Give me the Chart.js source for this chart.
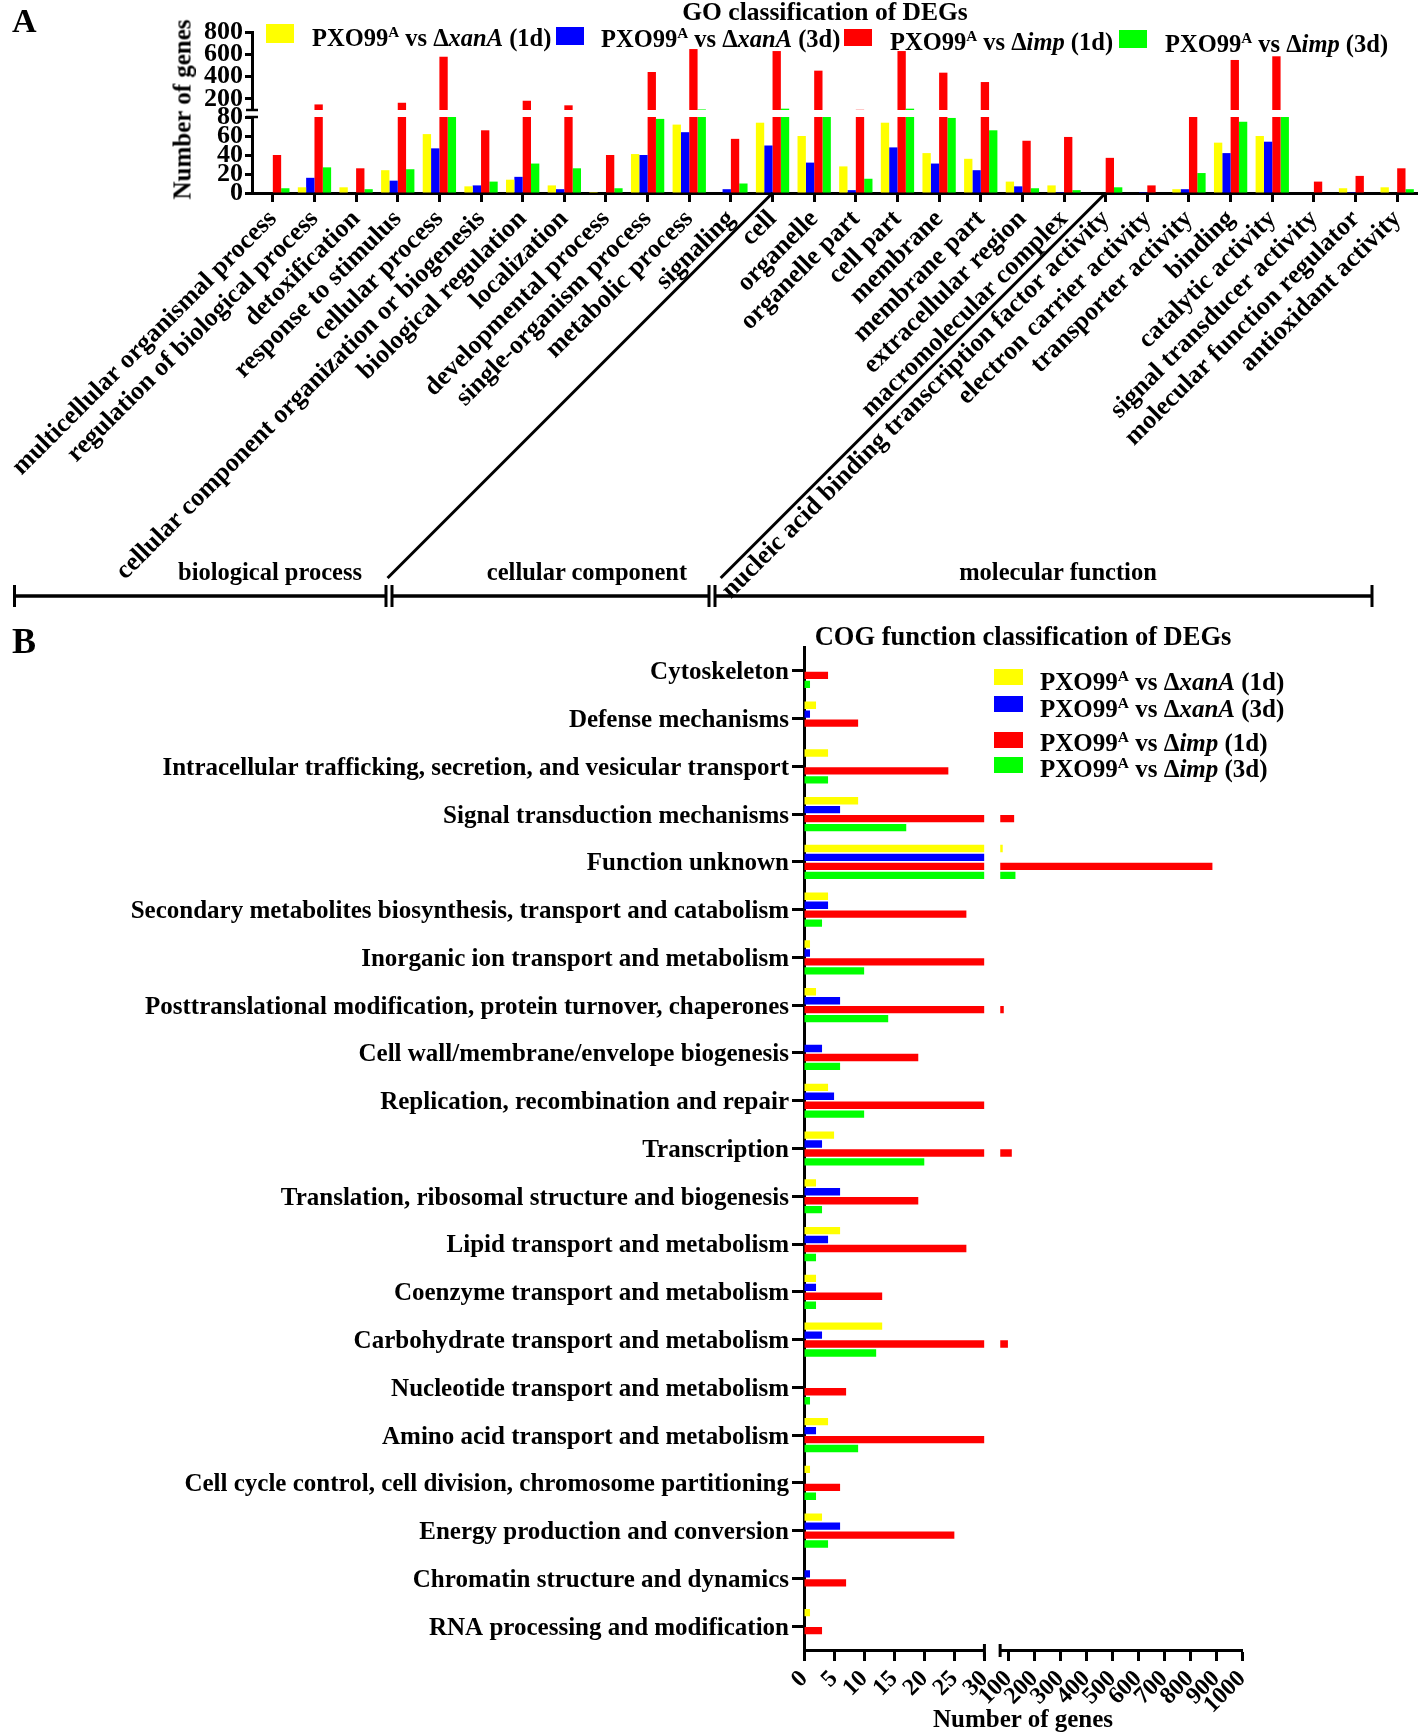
<!DOCTYPE html>
<html>
<head>
<meta charset="utf-8">
<script src="https://cdn.jsdelivr.net/npm/chart.js@4.4.1/dist/chart.umd.min.js"></script>
<style>
  body { margin: 0; background: #fff; }
  #page { position: relative; width: 1418px; height: 1736px; overflow: hidden;
          font-family: 'Liberation Serif', 'Times New Roman', serif; font-weight: bold; color: #000; }
  canvas { position: absolute; left: 0; }
  .txt { position: absolute; white-space: nowrap; line-height: 1; }
  .ctr { text-align: center; width: 500px; }
  .box { position: absolute; }
  sup { font-size: 0.62em; vertical-align: baseline; position: relative; top: -0.6em; }
</style>
</head>
<body>
<div id="page">
  <canvas id="goChart" width="1418" height="620" style="top:0"></canvas>
  <canvas id="cogChart" width="1418" height="1116" style="top:620px"></canvas>

  <div class="txt" style="left:12px;top:4px;font-size:34px">A</div>
  <div class="txt" style="left:12px;top:623px;font-size:36px">B</div>

  <div class="txt ctr" style="left:575px;top:-1px;font-size:25.5px">GO classification of DEGs</div>
  <div class="txt ctr" style="left:-68px;top:97px;font-size:25px;transform:rotate(-90deg)">Number of genes</div>

  <div class="box" style="left:266px;top:24px;width:28px;height:19px;background:#ffff00"></div>
  <div class="txt" style="left:312px;top:26px;font-size:24.5px">PXO99<sup>A</sup> vs Δ<i>xanA</i> (1d)</div>
  <div class="box" style="left:556px;top:27px;width:28px;height:18px;background:#0000ff"></div>
  <div class="txt" style="left:601px;top:27px;font-size:24.5px">PXO99<sup>A</sup> vs Δ<i>xanA</i> (3d)</div>
  <div class="box" style="left:844px;top:29px;width:28px;height:17px;background:#ff0000"></div>
  <div class="txt" style="left:890px;top:30px;font-size:24.5px">PXO99<sup>A</sup> vs Δ<i>imp</i> (1d)</div>
  <div class="box" style="left:1119px;top:30px;width:28px;height:18px;background:#00ff00"></div>
  <div class="txt" style="left:1165px;top:32px;font-size:24.5px">PXO99<sup>A</sup> vs Δ<i>imp</i> (3d)</div>

  <div class="txt ctr" style="left:20px;top:560px;font-size:24.5px">biological process</div>
  <div class="txt ctr" style="left:337px;top:560px;font-size:24.5px">cellular component</div>
  <div class="txt ctr" style="left:808px;top:560px;font-size:24.5px">molecular function</div>

  <div class="txt ctr" style="left:773px;top:623px;font-size:26.5px">COG function classification of DEGs</div>

  <div class="box" style="left:994px;top:669px;width:29px;height:16px;background:#ffff00"></div>
  <div class="txt" style="left:1040px;top:669px;font-size:25px">PXO99<sup>A</sup> vs Δ<i>xanA</i> (1d)</div>
  <div class="box" style="left:994px;top:696px;width:29px;height:16px;background:#0000ff"></div>
  <div class="txt" style="left:1040px;top:696px;font-size:25px">PXO99<sup>A</sup> vs Δ<i>xanA</i> (3d)</div>
  <div class="box" style="left:994px;top:732px;width:29px;height:16px;background:#ff0000"></div>
  <div class="txt" style="left:1040px;top:730px;font-size:25px">PXO99<sup>A</sup> vs Δ<i>imp</i> (1d)</div>
  <div class="box" style="left:994px;top:757px;width:29px;height:16px;background:#00ff00"></div>
  <div class="txt" style="left:1040px;top:756px;font-size:25px">PXO99<sup>A</sup> vs Δ<i>imp</i> (3d)</div>

  <div class="txt ctr" style="left:773px;top:1706px;font-size:25px">Number of genes</div>
</div>

<script>
// ---- GO classification (panel A) ----
const goCategories = [
  'multicellular organismal process', 'regulation of biological process', 'detoxification',
  'response to stimulus', 'cellular process', 'cellular component organization or biogenesis',
  'biological regulation', 'localization', 'developmental process', 'single-organism process',
  'metabolic process', 'signaling', 'cell', 'organelle', 'organelle part', 'cell part',
  'membrane', 'membrane part', 'extracellular region', 'macromolecular complex',
  'nucleic acid binding transcription factor activity', 'electron carrier activity',
  'transporter activity', 'binding', 'catalytic activity', 'signal transducer activity',
  'molecular function regulator', 'antioxidant activity'
];
const goXanA1d = [0, 6, 6, 24, 62, 7, 14, 8, 1, 41, 72, 0, 74, 60, 28, 74, 42, 36, 12, 8, 0, 0, 4, 53, 60, 0, 5, 6];
const goXanA3d = [0, 16, 0, 13, 47, 8, 17, 4, 0, 40, 64, 4, 50, 32, 3, 48, 31, 24, 7, 1, 0, 1, 4, 42, 54, 0, 1, 0];
const goImp1d = [40, 150, 26, 165, 578, 66, 183, 142, 40, 441, 647, 57, 629, 453, 102, 629, 435, 351, 55, 59, 37, 8, 90, 549, 582, 12, 18, 26];
const goImp3d = [5, 27, 4, 25, 85, 12, 31, 26, 5, 78, 105, 10, 112, 90, 15, 112, 79, 66, 5, 3, 6, 0, 21, 75, 88, 0, 0, 4];
const goLowTicks = [0, 20, 40, 60, 80];
const goHighTicks = [200, 400, 600, 800];
const goBreak = [80, 100];   // lower segment top, upper segment bottom
const goGroupEdges = [12, 20]; // first category of cellular component / molecular function

// ---- COG classification (panel B) ----
const cogCategories = [
  'Cytoskeleton', 'Defense mechanisms',
  'Intracellular trafficking, secretion, and vesicular transport',
  'Signal transduction mechanisms', 'Function unknown',
  'Secondary metabolites biosynthesis, transport and catabolism',
  'Inorganic ion transport and metabolism',
  'Posttranslational modification, protein turnover, chaperones',
  'Cell wall/membrane/envelope biogenesis', 'Replication, recombination and repair',
  'Transcription', 'Translation, ribosomal structure and biogenesis',
  'Lipid transport and metabolism', 'Coenzyme transport and metabolism',
  'Carbohydrate transport and metabolism', 'Nucleotide transport and metabolism',
  'Amino acid transport and metabolism',
  'Cell cycle control, cell division, chromosome partitioning',
  'Energy production and conversion', 'Chromatin structure and dynamics',
  'RNA processing and modification'
];
const cogXanA1d = [0, 2, 4, 9, 78, 4, 1, 2, 0, 4, 5, 2, 6, 2, 13, 0, 4, 1, 3, 0, 1];
const cogXanA3d = [0, 1, 0, 6, 50, 4, 1, 6, 3, 5, 3, 6, 4, 2, 3, 0, 2, 0, 6, 1, 0];
const cogImp1d = [4, 9, 24, 122, 886, 27, 45, 82, 19, 50, 113, 19, 27, 13, 98, 7, 55, 6, 25, 7, 3];
const cogImp3d = [1, 0, 4, 17, 127, 3, 10, 14, 6, 10, 20, 3, 2, 2, 12, 1, 9, 2, 4, 0, 0];
const cogLeftTicks = [0, 5, 10, 15, 20, 25, 30];
const cogRightTicks = [100, 200, 300, 400, 500, 600, 700, 800, 900, 1000];
const cogBreak = [30, 68];  // left segment end, right segment start

const seriesColors = ['#ffff00', '#0000ff', '#ff0000', '#00ff00'];

Chart.defaults.font.family = "'Liberation Serif', 'Times New Roman', serif";
Chart.defaults.font.weight = 'bold';
Chart.defaults.color = '#000';

const blackBorder = { display: true, color: '#000', width: 3 };
const noGap = {
  type: 'linear', ticks: { display: false }, grid: { display: false }, border: { display: false }
};
const plainNumber = v => String(v);

function tickGrid(len) {
  return { drawOnChartArea: false, drawTicks: true, tickColor: '#000', tickWidth: 3, tickLength: len, offset: false };
}

function splitSeries(series, lowMax, highMin, lowAxis, highAxis, axisKey) {
  const out = [];
  series.forEach((vals, i) => {
    out.push({ data: vals.map(v => Math.min(v, lowMax)), [axisKey]: lowAxis, stack: 's' + i,
               backgroundColor: seriesColors[i] });
    out.push({ data: vals.map(v => v > highMin ? v : null), [axisKey]: highAxis, base: highMin,
               stack: 's' + i, backgroundColor: seriesColors[i] });
  });
  return out;
}

const goDecor = {
  id: 'goDecor',
  afterDraw(chart) {
    const ctx = chart.ctx;
    const x = chart.scales.x;
    const hi = chart.scales.yHigh, lo = chart.scales.yLow;
    const bottom = chart.chartArea.bottom;
    ctx.save();
    ctx.strokeStyle = '#000';
    // axis break caps
    ctx.lineWidth = 2.5;
    [hi.bottom, lo.top].forEach(y => {
      ctx.beginPath(); ctx.moveTo(lo.right - 6, y); ctx.lineTo(lo.right + 6, y); ctx.stroke();
    });
    // diagonal separators
    ctx.lineWidth = 3;
    goGroupEdges.forEach(idx => {
      const px = x.getPixelForValue(idx);
      ctx.beginPath(); ctx.moveTo(px, bottom); ctx.lineTo(px - 385, bottom + 385); ctx.stroke();
    });
    // bracket
    const yb = 596;
    [[14.5, 386], [392, 709], [715, 1372]].forEach(([a, b]) => {
      ctx.lineWidth = 3.5;
      ctx.beginPath(); ctx.moveTo(a, yb); ctx.lineTo(b, yb); ctx.stroke();
      ctx.lineWidth = 3;
      [a, b].forEach(px => {
        ctx.beginPath(); ctx.moveTo(px, yb - 11); ctx.lineTo(px, yb + 11); ctx.stroke();
      });
    });
    ctx.restore();
  }
};

// left boxes are stacked in reverse order: yLow is listed first so that it ends up at the bottom
new Chart(document.getElementById('goChart').getContext('2d'), {
  type: 'bar',
  data: {
    labels: goCategories,
    datasets: splitSeries([goXanA1d, goXanA3d, goImp1d, goImp3d], goBreak[0], goBreak[1], 'yLow', 'yHigh', 'yAxisID')
  },
  options: {
    responsive: false,
    animation: false,
    categoryPercentage: 0.8,
    barPercentage: 1.0,
    layout: { padding: { top: 32, right: 0, bottom: 0, left: 0 } },
    plugins: { legend: { display: false }, tooltip: { enabled: false } },
    scales: {
      x: {
        type: 'category', position: 'bottom', offset: true,
        grid: tickGrid(9), border: blackBorder,
        ticks: { font: { size: 26 }, minRotation: 45, maxRotation: 45, autoSkip: false, padding: 2 },
        afterFit: s => { s.height = 427; s.paddingLeft = 0; s.paddingRight = 0; }
      },
      yLow: {
        type: 'linear', position: 'left', stack: 'go', stackWeight: 76, stacked: false,
        min: 0, max: goBreak[0],
        grid: tickGrid(7), border: blackBorder,
        ticks: { font: { size: 26 }, padding: 2, callback: plainNumber },
        afterBuildTicks: s => { s.ticks = goLowTicks.map(v => ({ value: v })); },
        afterFit: s => { s.width = 252; }
      },
      yGap: Object.assign({ position: 'left', stack: 'go', stackWeight: 7,
        afterFit: s => { s.width = 252; } }, noGap),
      yHigh: {
        type: 'linear', position: 'left', stack: 'go', stackWeight: 78, stacked: false,
        min: goBreak[1], max: 800,
        grid: tickGrid(7), border: blackBorder,
        ticks: { font: { size: 26 }, padding: 2, callback: plainNumber },
        afterBuildTicks: s => { s.ticks = goHighTicks.map(v => ({ value: v })); },
        afterFit: s => { s.width = 252; }
      }
    }
  },
  plugins: [goDecor]
});

const cogDecor = {
  id: 'cogDecor',
  afterDraw(chart) {
    const ctx = chart.ctx;
    const l = chart.scales.xLeft, r = chart.scales.xRight;
    ctx.save();
    ctx.strokeStyle = '#000';
    ctx.lineWidth = 3;
    [l.right, r.left].forEach(px => {
      ctx.beginPath(); ctx.moveTo(px, l.top - 6); ctx.lineTo(px, l.top + 7); ctx.stroke();
    });
    ctx.restore();
  }
};

new Chart(document.getElementById('cogChart').getContext('2d'), {
  type: 'bar',
  data: {
    labels: cogCategories,
    datasets: splitSeries([cogXanA1d, cogXanA3d, cogImp1d, cogImp3d], cogBreak[0], cogBreak[1], 'xLeft', 'xRight', 'xAxisID')
  },
  options: {
    indexAxis: 'y',
    responsive: false,
    animation: false,
    categoryPercentage: 0.75,
    barPercentage: 0.82,
    layout: { padding: { top: 27, right: 176, bottom: 0, left: 0 } },
    plugins: { legend: { display: false }, tooltip: { enabled: false } },
    scales: {
      y: {
        type: 'category', position: 'left', offset: true,
        grid: tickGrid(12), border: blackBorder,
        ticks: { font: { size: 25 }, padding: 3, autoSkip: false, labelOffset: 2 },
        afterFit: s => { s.width = 804; s.paddingTop = 0; s.paddingBottom = 0; }
      },
      xLeft: {
        type: 'linear', position: 'bottom', stack: 'cog', stackWeight: 180.3, stacked: false,
        min: 0, max: cogBreak[0],
        grid: tickGrid(11), border: blackBorder,
        ticks: { font: { size: 24 }, minRotation: 45, maxRotation: 45, padding: 4, autoSkip: false, callback: plainNumber },
        afterBuildTicks: s => { s.ticks = cogLeftTicks.map(v => ({ value: v })); },
        afterFit: s => { s.height = 86; s.paddingLeft = 0; s.paddingRight = 0; }
      },
      xGap: Object.assign({ position: 'bottom', stack: 'cog', stackWeight: 15.7,
        afterFit: s => { s.height = 86; s.paddingLeft = 0; s.paddingRight = 0; } }, noGap),
      xRight: {
        type: 'linear', position: 'bottom', stack: 'cog', stackWeight: 241.7, stacked: false,
        min: cogBreak[1], max: 1000,
        grid: tickGrid(11), border: blackBorder,
        ticks: { font: { size: 24 }, minRotation: 45, maxRotation: 45, padding: 4, autoSkip: false, callback: plainNumber },
        afterBuildTicks: s => { s.ticks = cogRightTicks.map(v => ({ value: v })); },
        afterFit: s => { s.height = 86; s.paddingLeft = 0; s.paddingRight = 0; }
      }
    }
  },
  plugins: [cogDecor]
});
</script>
</body>
</html>
